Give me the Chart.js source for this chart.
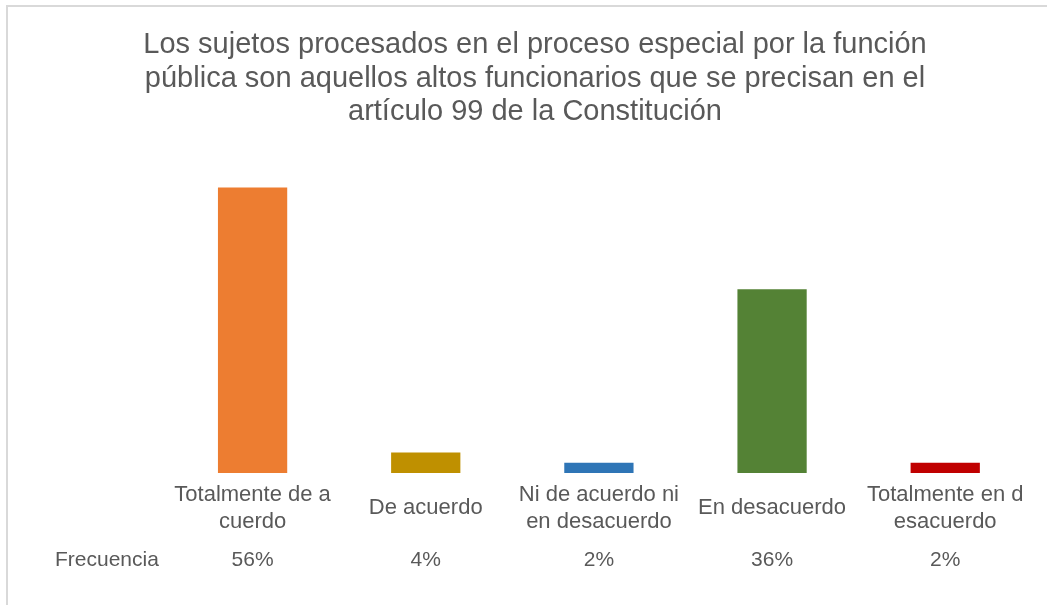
<!DOCTYPE html>
<html>
<head>
<meta charset="utf-8">
<script src="https://cdn.jsdelivr.net/npm/chart.js@4"></script>
<style>
  html, body { margin: 0; padding: 0; background: #fff; }
  #wrap { width: 1047px; height: 605px; position: relative; }
</style>
</head>
<body>
<div id="wrap"><canvas id="chart" width="1047" height="605"></canvas></div>
<script>
const categories = [
  ['Totalmente de a', 'cuerdo'],
  'De acuerdo',
  ['Ni de acuerdo ni', 'en desacuerdo'],
  'En desacuerdo',
  ['Totalmente en d', 'esacuerdo']
];
const frecuencia = [56, 4, 2, 36, 2];
const barColors = ['#ED7D31', '#BF9000', '#2E75B6', '#548235', '#C00000'];
const tableLabel = 'Frecuencia';
const titleLines = [
  'Los sujetos procesados en el proceso especial por la función',
  'pública son aquellos altos funcionarios que se precisan en el',
  'artículo 99 de la Constitución'
];

const textColor = '#595959';
const font = 'Liberation Sans, Arial, sans-serif';

// frame lines (top + left only, like the original picture)
const framePlugin = {
  id: 'frame',
  beforeDraw(chart) {
    const c = chart.ctx;
    c.save();
    c.fillStyle = '#fff';
    c.fillRect(0, 0, chart.width, chart.height);
    c.fillStyle = '#d9d9d9';
    c.fillRect(6, 5, chart.width - 6, 2);
    c.fillRect(6, 5, 2, chart.height - 5);
    c.restore();
  }
};

// title is centred on the whole frame, not on the plot area
const titlePlugin = {
  id: 'bigTitle',
  afterDraw(chart) {
    const c = chart.ctx;
    c.save();
    c.font = '29px ' + font;
    c.fillStyle = textColor;
    c.textAlign = 'center';
    c.textBaseline = 'middle';
    titleLines.forEach((t, i) => c.fillText(t, 535, 45 + i * 33.5));
    c.restore();
  }
};

// data table row under the axis
const tablePlugin = {
  id: 'dataTable',
  afterDraw(chart) {
    const c = chart.ctx;
    const x = chart.scales.x;
    const y = 560;
    c.save();
    c.font = '21px ' + font;
    c.fillStyle = textColor;
    c.textBaseline = 'middle';
    c.textAlign = 'left';
    c.fillText(tableLabel, 55, y);
    c.textAlign = 'center';
    frecuencia.forEach((v, i) => {
      c.fillText(v + '%', x.getPixelForValue(i), y);
    });
    c.restore();
  }
};

new Chart(document.getElementById('chart'), {
  type: 'bar',
  data: {
    labels: categories,
    datasets: [{
      label: tableLabel,
      data: frecuencia,
      backgroundColor: barColors,
      borderWidth: 0,
      categoryPercentage: 1,
      barPercentage: 0.4
    }]
  },
  options: {
    responsive: false,
    animation: false,
    layout: { padding: { left: 166, right: 15, top: 167, bottom: 34 } },
    plugins: {
      legend: { display: false },
      tooltip: { enabled: false },
      title: { display: false }
    },
    scales: {
      x: {
        grid: { display: false, drawTicks: false },
        border: { display: false },
        ticks: {
          color: textColor,
          font: { family: font, size: 22, lineHeight: 1.23 },
          padding: 22,
          crossAlign: 'center',
          maxRotation: 0,
          autoSkip: false
        }
      },
      y: {
        display: false,
        min: 0,
        max: 60
      }
    }
  },
  plugins: [framePlugin, titlePlugin, tablePlugin]
});
</script>
</body>
</html>
